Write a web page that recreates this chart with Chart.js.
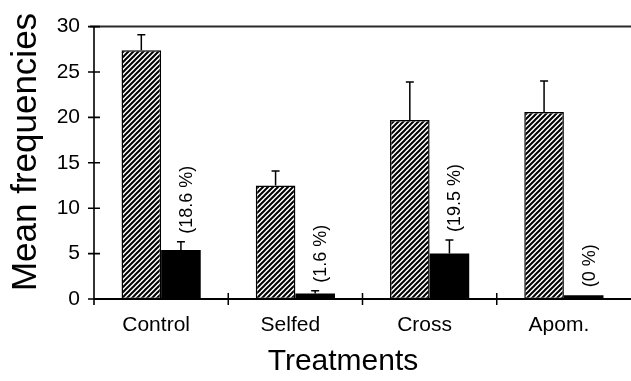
<!DOCTYPE html>
<html>
<head>
<meta charset="utf-8">
<script src="https://cdn.jsdelivr.net/npm/chart.js@4/dist/chart.umd.min.js"></script>
<style>
  html, body { margin: 0; padding: 0; background: #fff; }
  #wrap { width: 631px; height: 381px; }
</style>
</head>
<body>
<div id="wrap"><canvas id="chart" width="631" height="381"></canvas></div>
<script>
// Treatments on the category axis
const categories = ['Control', 'Selfed', 'Cross', 'Apom.'];
// Hatched bars: means and upper error
const hatchedMeans = [27.4, 12.5, 19.7, 20.6];
const hatchedErr   = [1.7, 1.6, 4.2, 3.4];
// Solid bars: means and upper error
const solidMeans = [5.4, 0.6, 5.0, 0.4];
const solidErr   = [0.9, 0.3, 1.5, 0];
// Percent annotations above the solid bars
const solidPercent = ['18.6', '1.6', '19.5', '0'];
// Value axis ticks
const yTicks = [0, 5, 10, 15, 20, 25, 30];

const FONT = '"Liberation Sans", Arial, Helvetica, sans-serif';

// Diagonal "///" hatch fill
function makeHatch() {
  const s = 5;
  const c = document.createElement('canvas');
  c.width = s; c.height = s;
  const g = c.getContext('2d');
  g.fillStyle = '#fff';
  g.fillRect(0, 0, s, s);
  g.strokeStyle = '#000';
  g.lineWidth = 2;
  g.beginPath();
  g.moveTo(-1, s + 1); g.lineTo(s + 1, -1);
  g.moveTo(-1, 1); g.lineTo(1, -1);
  g.moveTo(s - 1, s + 1); g.lineTo(s + 1, s - 1);
  g.stroke();
  return g.createPattern(c, 'repeat');
}

// Frame, tick marks, error bars, annotations and axis titles
const decorations = {
  id: 'decorations',
  afterDatasetsDraw(chart) {
    const ctx = chart.ctx;
    const area = chart.chartArea;
    const xs = chart.scales.x;
    const ys = chart.scales.y;
    ctx.save();

    // error bars
    const errs = [hatchedErr, solidErr];
    chart.data.datasets.forEach((ds, di) => {
      const meta = chart.getDatasetMeta(di);
      meta.data.forEach((bar, i) => {
        const e = errs[di][i];
        if (!e) return;
        const top = ys.getPixelForValue(ds.data[i] + e);
        ctx.strokeStyle = '#000';
        ctx.lineWidth = 1.5;
        ctx.beginPath();
        ctx.moveTo(bar.x, bar.y);
        ctx.lineTo(bar.x, top);
        ctx.moveTo(bar.x - 4, top);
        ctx.lineTo(bar.x + 4, top);
        ctx.stroke();
      });
    });

    // percent labels above solid bars
    const solidMeta = chart.getDatasetMeta(1);
    ctx.fillStyle = '#000';
    ctx.font = '18px ' + FONT;
    solidMeta.data.forEach((bar, i) => {
      const yA = ys.getPixelForValue(solidMeans[i] + solidErr[i]) - 8;
      ctx.save();
      ctx.translate(bar.x + 6, yA);
      ctx.rotate(-Math.PI / 2);
      ctx.textAlign = 'left';
      ctx.textBaseline = 'middle';
      ctx.fillText('(' + solidPercent[i] + ' %)', 0, 0);
      ctx.restore();
    });

    // top frame line
    ctx.strokeStyle = '#2a2a2a';
    ctx.lineWidth = 2;
    ctx.beginPath();
    ctx.moveTo(area.left - 4, area.top);
    ctx.lineTo(area.right, area.top);
    ctx.stroke();

    // value axis and ticks crossing it
    ctx.strokeStyle = '#000';
    ctx.lineWidth = 1.6;
    ctx.beginPath();
    ctx.moveTo(area.left, area.top);
    ctx.lineTo(area.left, area.bottom + 6);
    ys.ticks.forEach(t => {
      const y = ys.getPixelForValue(t.value);
      ctx.moveTo(area.left - 6, y);
      ctx.lineTo(area.left + 6, y);
    });
    ctx.stroke();

    // category axis and dividers between treatments
    ctx.lineWidth = 2;
    ctx.beginPath();
    ctx.moveTo(area.left, area.bottom);
    ctx.lineTo(area.right, area.bottom);
    ctx.stroke();
    ctx.lineWidth = 1.5;
    ctx.beginPath();
    for (let i = 0; i < categories.length - 1; i++) {
      const x = (xs.getPixelForValue(i) + xs.getPixelForValue(i + 1)) / 2;
      ctx.moveTo(x, area.bottom - 6);
      ctx.lineTo(x, area.bottom + 6);
    }
    ctx.stroke();

    // axis titles
    ctx.fillStyle = '#000';
    ctx.textAlign = 'center';
    ctx.textBaseline = 'middle';
    ctx.font = '35px ' + FONT;
    ctx.save();
    ctx.translate(26, 152);
    ctx.rotate(-Math.PI / 2);
    ctx.fillText('Mean frequencies', 0, 0);
    ctx.restore();
    ctx.font = '30px ' + FONT;
    ctx.fillText('Treatments', 343, 362);

    ctx.restore();
  }
};

new Chart(document.getElementById('chart'), {
  type: 'bar',
  data: {
    labels: categories,
    datasets: [
      {
        data: hatchedMeans,
        backgroundColor: makeHatch(),
        borderColor: '#000',
        borderWidth: 1.5,
        borderSkipped: false
      },
      {
        data: solidMeans,
        backgroundColor: '#000',
        borderWidth: 0
      }
    ]
  },
  options: {
    responsive: false,
    animation: false,
    events: [],
    layout: { padding: { top: 15, right: 0, bottom: 0, left: 0 } },
    plugins: { legend: { display: false }, tooltip: { enabled: false } },
    datasets: { bar: { categoryPercentage: 0.59, barPercentage: 1 } },
    scales: {
      x: {
        grid: { display: false, drawTicks: false },
        border: { display: false },
        ticks: { color: '#000', font: { family: FONT, size: 21 }, padding: 14, labelOffset: -5, maxRotation: 0 },
        afterFit(s) { s.height = 82; }
      },
      y: {
        min: 0,
        max: 30,
        afterBuildTicks(s) { s.ticks = yTicks.map(v => ({ value: v })); },
        grid: { display: false, drawTicks: false },
        border: { display: false },
        ticks: { color: '#000', font: { family: FONT, size: 21 }, padding: 14 },
        afterFit(s) { s.width = 94; }
      }
    }
  },
  plugins: [decorations]
});
</script>
</body>
</html>
